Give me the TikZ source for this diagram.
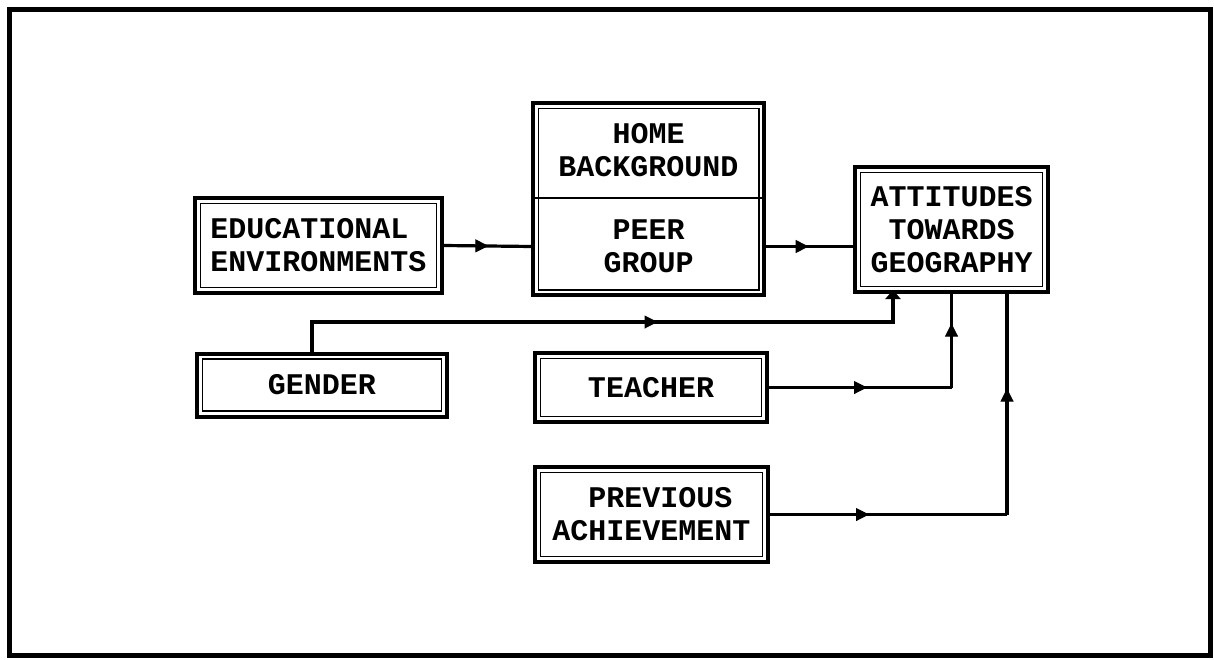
\documentclass[tikz,border=0pt]{standalone}
\usepackage{fontspec}
\setmainfont{Liberation Mono}
\usetikzlibrary{arrows.meta,decorations.markings,fit}
\begin{document}
\begin{tikzpicture}[x=1pt,y=-1pt,
  box/.style={draw, line width=4pt, inner sep=0pt, align=center,
    font=\fontsize{30}{33}\selectfont\bfseries,
    path picture={\draw[line width=1.6pt]
      ([shift={(5.5pt,-5.5pt)}]path picture bounding box.north west) rectangle
      ([shift={(-5.5pt,5.5pt)}]path picture bounding box.south east);}},
  lbl/.style={inner sep=0pt, align=center, font=\fontsize{30}{33}\selectfont\bfseries},
  conn/.style={line width=3.2pt},
  tipat/.style={postaction=decorate, decoration={markings,
    mark=at position #1 with {\arrow[line width=1pt]{Triangle[length=13pt,width=13pt]}}}}
]
\useasboundingbox (0,0) rectangle (1214,659);
\draw[line width=5pt] (9,9) rectangle (1210,655);

\node[box, minimum width=247pt, minimum height=95pt, align=left] (edu) at (318.5,245.5) {EDUCATIONAL\\ENVIRONMENTS};
\node[lbl, minimum width=231pt, minimum height=95pt] (home) at (648.5,150.5) {HOME\\BACKGROUND};
\node[lbl, minimum width=231pt, minimum height=97pt] (peer) at (648.5,246.5) {PEER\\GROUP};
\node[box, fit=(home)(peer)] (hp) {};
\draw[line width=1.6pt] (home.south west) -- (home.south east);
\node[box, minimum width=193pt, minimum height=125pt] (att) at (951.5,229.5) {ATTITUDES\\TOWARDS\\GEOGRAPHY};
\node[box, minimum width=250pt, minimum height=63pt] (gender) at (322,385) {GENDER};
\node[box, minimum width=232pt, minimum height=69pt] (teacher) at (651,387.5) {TEACHER};
\node[box, minimum width=233pt, minimum height=95pt] (prev) at (651.5,514.5) {\hspace*{18pt}PREVIOUS\\ACHIEVEMENT};

\draw[conn, tipat=0.5] (edu.east) -- (peer.west);
\draw[conn, tipat=0.5] (peer.east) -- (peer.east -| att.west);

\coordinate (g1) at (312,322);
\coordinate (g2) at (893,322);
\draw[conn, tipat=375pt, -{Triangle[length=9pt,width=15pt]}]
  ([xshift=-10pt]gender.north) -- (g1) -- (g2) -- ([yshift=4pt]g2 |- att.south);

\draw[conn, tipat=98pt] (teacher.east) -- (teacher.east -| att.south);
\draw[conn, tipat=64pt] (teacher.east -| att.south) -- (att.south);

\coordinate (p1) at (1007,514.5);
\draw[conn, tipat=99pt] (prev.east) -- (prev.east -| p1);
\draw[conn, tipat=126pt] (prev.east -| p1) -- (p1 |- att.south);
\end{tikzpicture}
\end{document}
